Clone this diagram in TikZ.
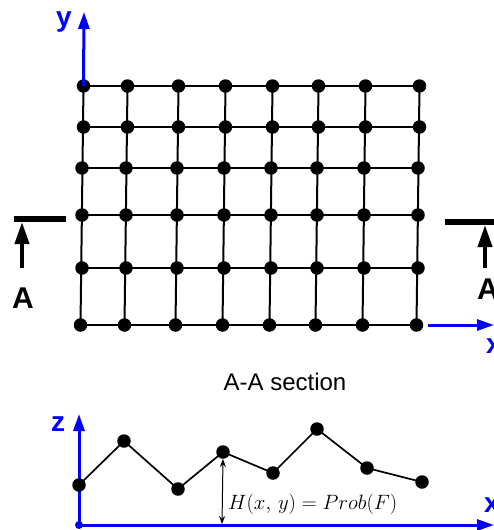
\documentclass[tikz,border=0pt]{standalone}
\usepackage{fontspec}
\setmainfont{Liberation Sans}
\usetikzlibrary{arrows.meta}
\begin{document}
\begin{tikzpicture}[x=1pt,y=-1pt,
  dot/.style={circle,fill=black,inner sep=0pt,minimum size=13.5pt},
  gridline/.style={line width=2pt,black},
  axis/.style={blue,line width=3pt,-{Triangle[length=17pt,width=11pt]}},
  axlabel/.style={text=blue,font=\bfseries\fontsize{28}{30}\selectfont,inner sep=0pt},
  secbar/.style={line width=6.5pt},
  secarrow/.style={line width=4pt,-{Triangle[length=22pt,width=14pt]}},
  seclabel/.style={font=\bfseries\fontsize{30}{32}\selectfont,inner sep=0pt},
  profile/.style={line width=1.7pt,black},
  harrow/.style={line width=1pt,{Stealth[length=8pt,width=6pt]}-{Stealth[length=8pt,width=6pt]}}]
\useasboundingbox (0,0) rectangle (494,530);
% grid dots
\foreach \r/\y/\dx in {1/86/1.5,2/127/1.5,3/168/0,4/215/0,5/268/0,6/325/-1.5}{
  \foreach \c/\x in {1/82,2/126,3/177,4/224,5/271,6/317,7/364,8/418}{
    \node[dot] (g-\r-\c) at (\x+\dx,\y) {};
  }
}
% horizontal lines
\foreach \r in {1,...,6}{
  \draw[gridline] (g-\r-1.center) -- (g-\r-8.center);
}
% vertical lines
\foreach \c in {1,...,8}{
  \draw[gridline] (g-1-\c.center) -- (g-6-\c.center);
}
% axes top
\coordinate (ytip) at (84,12);
\draw[axis] (g-1-1.center) -- (ytip);
\node[axlabel] (ylab) at (64,22) {y};
\coordinate (xstart) at (428,325);
\coordinate (xtip) at (494,325);
\draw[axis] (xstart) -- (xtip);
\node[axlabel] (xlab) at (494,346) {x};
% section markers
\coordinate (lb1) at (14,219);
\coordinate (lb2) at (66,219);
\draw[secbar] (lb1) -- (lb2);
\coordinate (la1) at (22,268);
\coordinate (la2) at (22,222);
\draw[secarrow] (la1) -- (la2);
\node[seclabel] (lA) at (23,298) {A};
\coordinate (rb1) at (445,222);
\coordinate (rb2) at (500,222);
\draw[secbar] (rb1) -- (rb2);
\coordinate (ra1) at (485,268);
\coordinate (ra2) at (485,225);
\draw[secarrow] (ra1) -- (ra2);
\node[seclabel] (rA) at (488,289) {A};
% title
\node[font=\fontsize{24}{26}\selectfont,inner sep=0pt] (title) at (285,382) {A-A section};
% bottom section
\coordinate (o) at (79,525);
\coordinate (ztip) at (79,414);
\coordinate (x2tip) at (494,525);
\draw[axis] (o) -- (ztip);
\draw[axis] (o) -- (x2tip);
\fill[blue] (o) circle (4pt);
\node[axlabel] (zlab) at (58,424) {z};
\node[axlabel] (x2lab) at (492,505) {x};
\foreach \i/\x/\y in {1/79/485,2/124/441,3/178/489,4/223/452,5/273/473,6/317/429,7/367/468,8/422/482}{
  \node[dot] (p\i) at (\x,\y) {};
}
\draw[profile] (p1.center) -- (p2.center) -- (p3.center) -- (p4.center) -- (p5.center) -- (p6.center) -- (p7.center) -- (p8.center);
\coordinate (hbase) at (222,524);
\draw[harrow] (p4.south) -- (hbase);
\node[anchor=west,inner sep=0pt,font=\fontsize{22}{24}\selectfont] (hlab) at (228,504) {$H(x,\,y)=Prob(F)$};
\end{tikzpicture}
\end{document}
